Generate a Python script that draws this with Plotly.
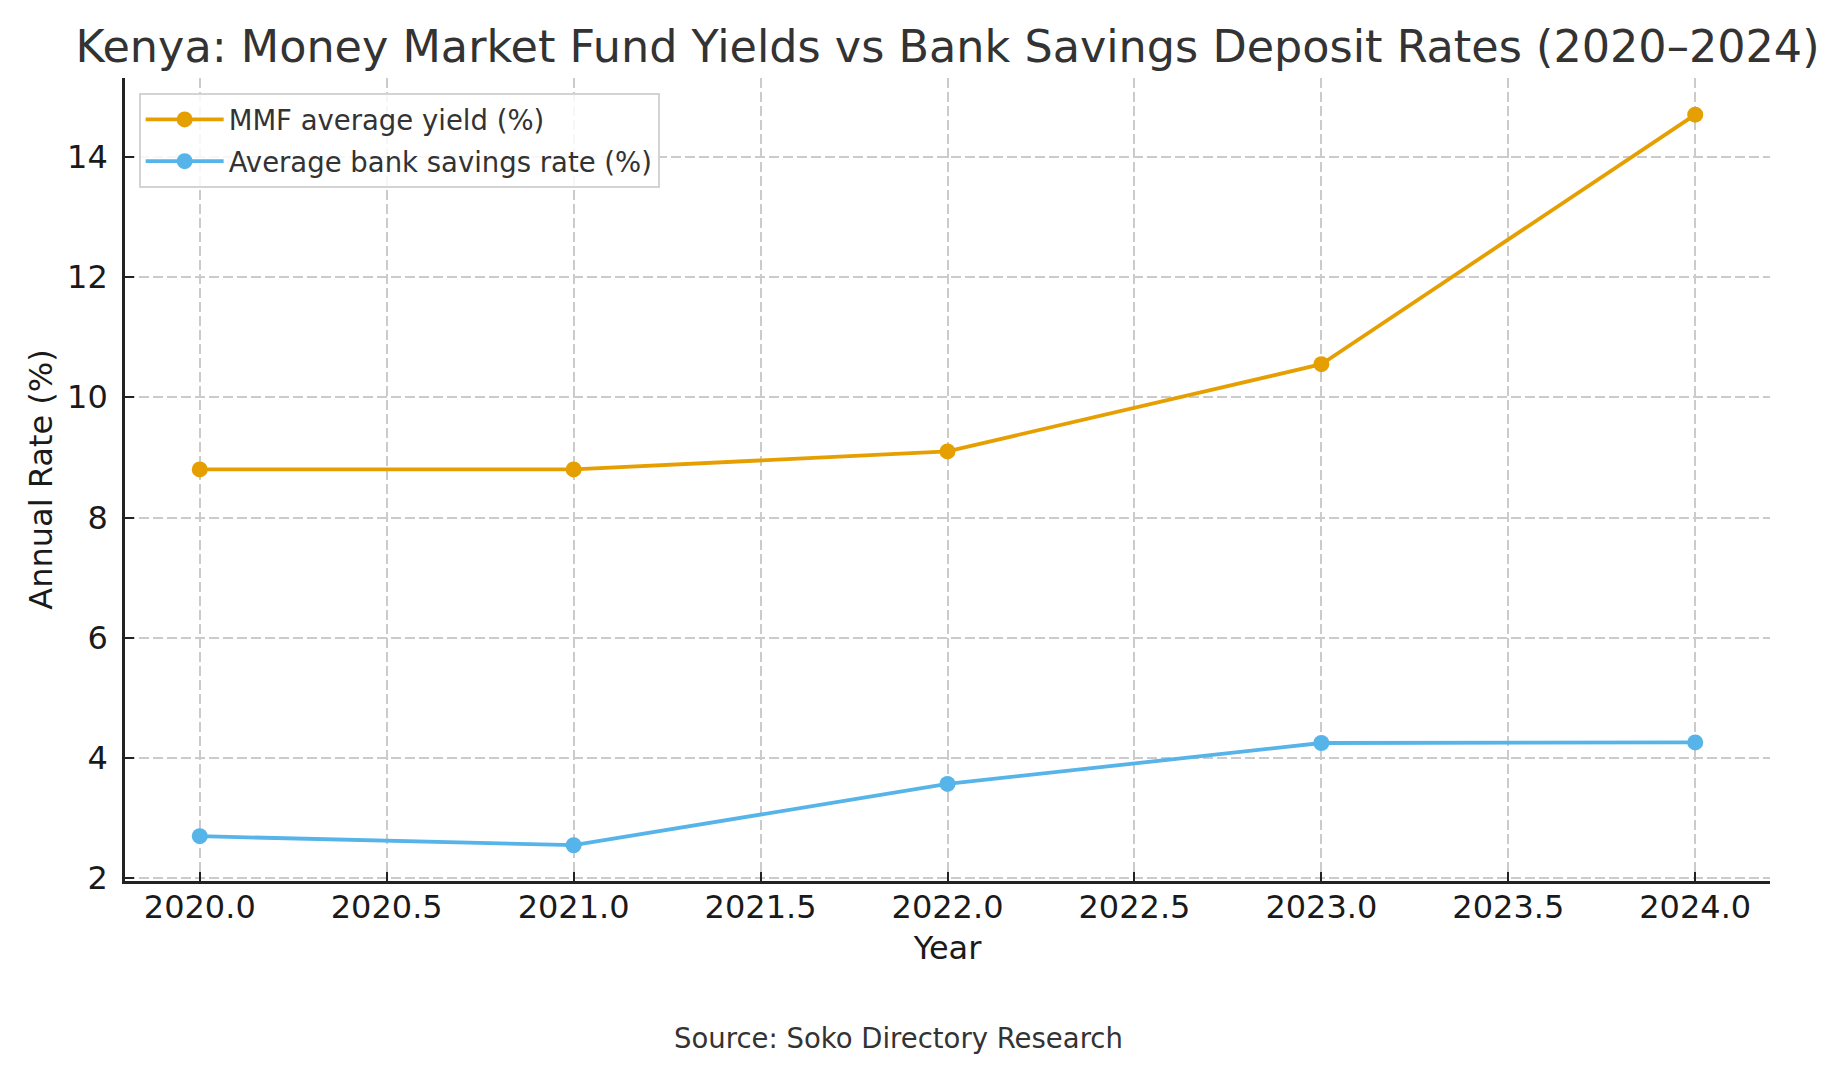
import plotly.graph_objects as go

years = [2020, 2021, 2022, 2023, 2024]
mmf_yield = [8.8, 8.8, 9.1, 10.55, 14.7]
bank_rate = [2.7, 2.55, 3.57, 4.25, 4.26]

title_text = "Kenya: Money Market Fund Yields vs Bank Savings Deposit Rates (2020–2024)"
source_text = "Source: Soko Directory Research"

FONT = "DejaVu Sans"
GRID = "#cbcbcb"

fig = go.Figure()
fig.add_trace(go.Scatter(
    x=years, y=mmf_yield, mode="lines+markers", name="MMF average yield (%)",
    legendgroup="a",
    line=dict(color="#E69F00", width=3.8), marker=dict(color="#E69F00", size=16),
))
fig.add_trace(go.Scatter(
    x=years, y=bank_rate, mode="lines+markers", name="Average bank savings rate (%)",
    legendgroup="b",
    line=dict(color="#56B4E9", width=3.8), marker=dict(color="#56B4E9", size=16),
))

fig.update_layout(
    width=1829, height=1066,
    margin=dict(l=117, r=67, t=70, b=193),
    paper_bgcolor="white", plot_bgcolor="white",
    font=dict(family=FONT, color="#1a1a1a"),
    title=dict(text=title_text, x=0.5, xref="paper", xanchor="center",
               y=1 - 38 / 1066, yref="container", yanchor="middle",
               font=dict(size=44.5, color="#333333", family=FONT)),
    legend=dict(x=0.0083, y=0.9813, xanchor="left", yanchor="top",
                bgcolor="rgba(255,255,255,0.85)", bordercolor="#d3d3d3", borderwidth=2,
                font=dict(size=27.5, color="#333333", family=FONT),
                itemwidth=78, tracegroupgap=3),
    showlegend=True,
)

fig.update_xaxes(
    range=[2019.8, 2024.2], dtick=0.5, tick0=2020, tickformat=".1f",
    showgrid=True, gridcolor=GRID, griddash="10px,4px", gridwidth=1.6,
    showline=True, linecolor="#222222", linewidth=2.7,
    ticks="inside", ticklen=9, tickwidth=2.2, tickcolor="#222222",
    ticklabelstandoff=-4,
    tickfont=dict(size=32, color="#1a1a1a"),
    title=dict(text="Year", font=dict(size=32, color="#1a1a1a"), standoff=12),
    zeroline=False, mirror=False,
)
fig.update_yaxes(
    range=[1.955, 15.31], dtick=2, tick0=2,
    showgrid=True, gridcolor=GRID, griddash="10px,4px", gridwidth=1.6,
    showline=True, linecolor="#222222", linewidth=2.7,
    ticks="inside", ticklen=9, tickwidth=2.2, tickcolor="#222222",
    ticklabelstandoff=8,
    tickfont=dict(size=32, color="#1a1a1a"),
    title=dict(text="Annual Rate (%)", font=dict(size=32, color="#1a1a1a"), standoff=5),
    zeroline=False,
)

fig.add_annotation(
    text=source_text, xref="paper", yref="paper", x=0.470, y=-0.1955,
    xanchor="center", yanchor="middle", showarrow=False,
    font=dict(size=27.5, color="#333333", family=FONT),
)

fig.write_html("out.html")
